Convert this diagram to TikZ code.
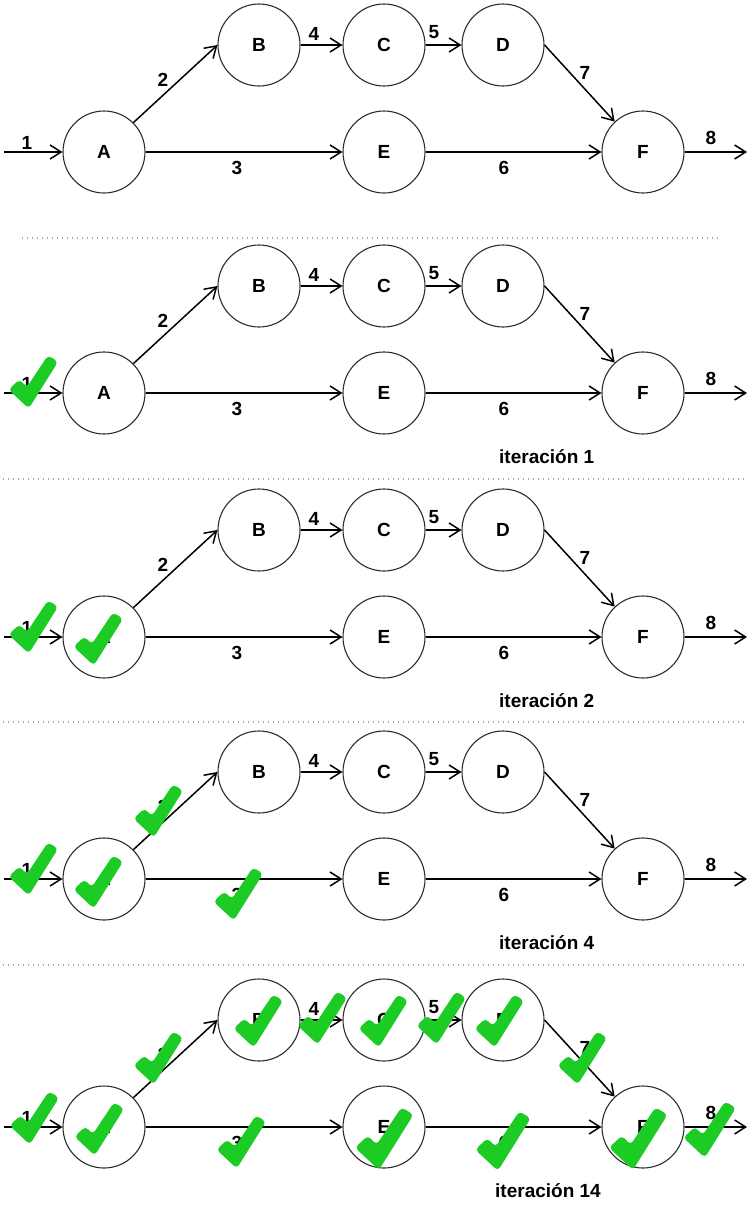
\documentclass[tikz,border=0pt]{standalone}
\usepackage{fontspec}
\setmainfont{Liberation Sans}
\usetikzlibrary{arrows.meta}
\definecolor{ckgreen}{RGB}{28,204,36}
\definecolor{circ}{RGB}{45,45,45}
\newcommand\drawnet[2]{%
\begin{scope}[shift={(0,#2)}]
\node[state] (A#1) at (104,152) {A};
\node[state] (B#1) at (259,45) {B};
\node[state] (C#1) at (384,45) {C};
\node[state] (D#1) at (503,45) {D};
\node[state] (E#1) at (384,152) {E};
\node[state] (F#1) at (643,152) {F};
\coordinate (in#1) at (4,152);
\coordinate (out#1) at (747,152);
\draw[arr] (in#1) -- (A#1);
\draw[arr] (A#1.45) -- (B#1.west);
\draw[arr] (A#1) -- (E#1);
\draw[arr] (B#1) -- (C#1);
\draw[arr] (C#1) -- (D#1);
\draw[arr] (E#1) -- (F#1);
\draw[arr] (D#1.east) -- (F#1.133);
\draw[arr] (F#1) -- (out#1);
\node[lbl] (ea#1) at (27,143) {1};
\node[lbl] (eb#1) at (163,80) {2};
\node[lbl] (ec#1) at (237,168) {3};
\node[lbl] (ed#1) at (314,34) {4};
\node[lbl] (ee#1) at (434,32) {5};
\node[lbl] (ef#1) at (504,168) {6};
\node[lbl] (eg#1) at (585,73) {7};
\node[lbl] (eh#1) at (711,138) {8};
\end{scope}}
\begin{document}
\begin{tikzpicture}[x=1pt,y=-1pt,
  state/.style={circle,draw=circ,line width=1.1pt,minimum size=82pt,inner sep=0pt,font=\fontsize{19}{19}\selectfont\bfseries},
  lbl/.style={inner sep=0pt,font=\fontsize{19}{19}\selectfont\bfseries},
  arr/.style={line width=1.5pt,-{Straight Barb[length=11pt,width=14pt]}},
  sep/.style={gray!70,line width=1.3pt,dash pattern=on 1.3pt off 3.7pt},
  itlbl/.style={anchor=base west,inner sep=0pt,font=\fontsize{19}{19}\selectfont\bfseries},
  okmark/.pic={\fill[ckgreen,rounded corners=4pt] (-19.5,-16.4) -- (-8.5,-26.6) -- (-1.2,-18.8) -- (19.9,-50.6) -- (30.1,-44.4) -- (0.8,2.5) -- cycle;}
]
\useasboundingbox (0,0) rectangle (750,1205);
\fill[white] (0,0) rectangle (750,1205);

\drawnet{p}{0}
\drawnet{q}{241}
\drawnet{r}{485}
\drawnet{s}{727}
\drawnet{t}{975}

\draw[sep] (22,238) -- (722,238);
\draw[sep] (3,479) -- (745,479);
\draw[sep] (3,722) -- (745,722);
\draw[sep] (3,965) -- (745,965);

\node[itlbl] (it1) at (499,463) {iteración 1};
\node[itlbl] (it2) at (499,707) {iteración 2};
\node[itlbl] (it4) at (499,949) {iteración 4};
\node[itlbl] (it14) at (495,1197) {iteración 14};

% panel 2
\begin{scope}[shift={(0,241)}]
\pic at (28,165) {okmark};
\end{scope}
% panel 3
\begin{scope}[shift={(0,485)}]
\pic at (28,166) {okmark};
\pic at (93,178) {okmark};
\end{scope}
% panel 4
\begin{scope}[shift={(0,727)}]
\pic at (28,166) {okmark};
\pic at (93,179) {okmark};
\pic at (153,108) {okmark};
\pic at (233,191) {okmark};
\end{scope}
% panel 5
\begin{scope}[shift={(0,975)}]
\pic at (29,167) {okmark};
\pic at (94,178) {okmark};
\pic at (153,107) {okmark};
\pic at (236,191) {okmark};
\pic at (253,70) {okmark};
\pic at (317,67) {okmark};
\pic at (378,70) {okmark};
\pic at (436,67) {okmark};
\pic at (494,70) {okmark};
\pic at (577,107) {okmark};
\pic[scale=1.18] at (378,192) {okmark};
\pic[scale=1.12] at (497,193) {okmark};
\pic[scale=1.18] at (632,192) {okmark};
\pic[scale=1.06] at (704,180) {okmark};
\end{scope}
\end{tikzpicture}
\end{document}
